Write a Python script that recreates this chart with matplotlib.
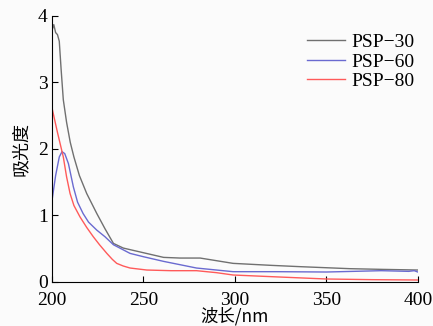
import numpy as np
import matplotlib
matplotlib.use('Agg')
from matplotlib import pyplot as plt

# valores
x30 = [200, 201, 202, 203, 204, 205, 206.2, 208, 210, 212, 215, 219, 224.5, 229, 233.6, 239, 250, 261, 270, 281, 290, 299, 320, 336, 363, 380, 400]
y30 = [3.78, 3.87, 3.75, 3.72, 3.62, 3.2, 2.74, 2.4, 2.1, 1.88, 1.6, 1.33, 1.03, 0.8, 0.58, 0.51, 0.44, 0.37, 0.36, 0.36, 0.32, 0.28, 0.25, 0.23, 0.2, 0.19, 0.18]

x60 = [200, 202, 204, 205.5, 207, 209, 211.7, 214, 217, 220, 224.5, 229, 233.6, 242.7, 250, 261, 279, 299, 323, 350, 380, 395, 398, 400]
y60 = [1.22, 1.6, 1.88, 1.96, 1.93, 1.78, 1.43, 1.2, 1.03, 0.9, 0.78, 0.68, 0.56, 0.43, 0.38, 0.31, 0.21, 0.155, 0.155, 0.15, 0.17, 0.16, 0.17, 0.15]

x80 = [200, 203, 206.2, 208, 209.9, 212, 215.3, 219, 222.6, 226, 230, 233, 235.4, 239, 242.7, 251.8, 265, 279, 290, 299, 320, 350, 375, 400]
y80 = [2.62, 2.25, 1.88, 1.58, 1.33, 1.15, 0.98, 0.82, 0.68, 0.56, 0.43, 0.34, 0.28, 0.24, 0.21, 0.18, 0.17, 0.17, 0.14, 0.105, 0.08, 0.045, 0.035, 0.03]

plt.rcParams['font.family'] = ['Liberation Serif', 'Noto Sans CJK SC']

fig = plt.figure(figsize=(4.33, 3.26), dpi=100, facecolor='#fbfbfb')
ax = fig.add_axes([0.120, 0.135, 0.845, 0.816])
ax.set_facecolor('#fbfbfb')

ax.plot(x30, y30, color='#707070', lw=1.0, label='PSP\u221230')
ax.plot(x60, y60, color='#6a6ad0', lw=1.0, label='PSP\u221260')
ax.plot(x80, y80, color='#ff5a5a', lw=1.0, label='PSP\u221280')

ax.set_xlim(200, 400)
ax.set_ylim(0, 4)
ax.set_xticks([200, 250, 300, 350, 400])
ax.set_yticks([0, 1, 2, 3, 4])
ax.spines['top'].set_visible(False)
ax.spines['right'].set_visible(False)
ax.tick_params(direction='in', length=4, labelsize=14)
ax.tick_params(axis='x', pad=7)
ax.tick_params(axis='y', pad=3)

ax.set_xlabel('波长/nm', fontsize=12.5, family=['Noto Sans CJK SC', 'Liberation Serif'], labelpad=-1)
ax.set_ylabel('吸光度', fontsize=13, family=['Noto Sans CJK SC'], labelpad=6)

ax.legend(loc='upper left', bbox_to_anchor=(0.648, 1.0), frameon=False, fontsize=14,
          handlelength=2.0, labelspacing=0.1, handletextpad=0.3)

fig.savefig('out.png', dpi=100, facecolor=fig.get_facecolor())
